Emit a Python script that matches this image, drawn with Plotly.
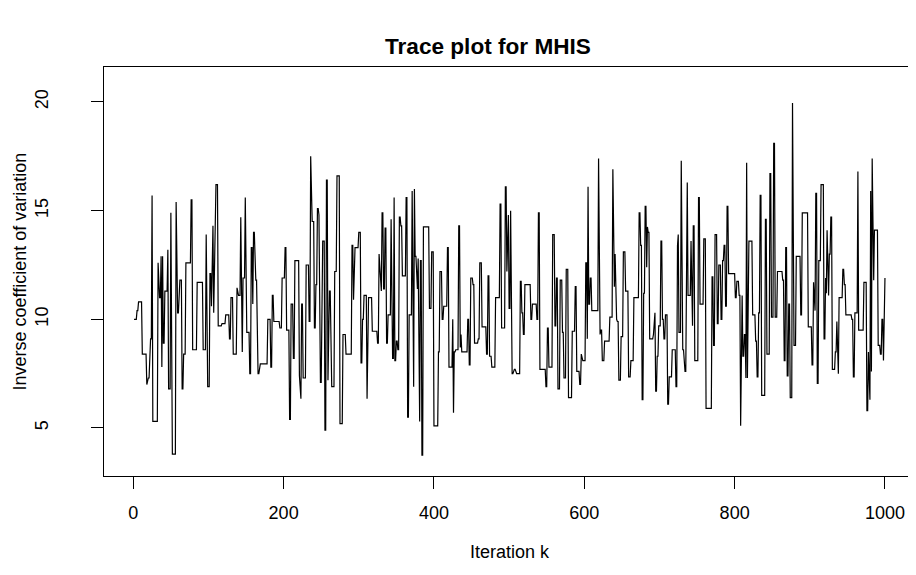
import numpy as np
import plotly.graph_objects as go

# MCMC trace (MHIS): iteration where the chain moves to a new value, and that value
change_iter = [
    1, 5, 7, 12, 18, 19, 22, 25, 26, 33, 34, 37, 38, 39, 40, 42, 46, 47, 50, 51, 57, 58, 61, 65, 67, 70, 77, 79, 85, 93, 97, 98, 102,
    104, 105, 107, 108, 110, 113, 118, 123, 128, 130, 133, 138, 139, 143, 144, 146, 149, 150, 155, 157, 159, 160, 162, 165, 168, 179, 183, 185, 187, 195, 198,
    202, 204, 208, 210, 213, 215, 221, 222, 224, 226, 230, 234, 236, 237, 241, 243, 245, 247, 248, 251, 255, 257, 259, 260, 263, 268, 271, 275, 279, 283, 291, 293, 294,
    300, 303, 305, 307, 311, 312, 318, 325, 327, 328, 330, 331, 333, 335, 337, 339, 343, 344, 345, 347, 348, 350, 352, 354, 356, 358, 363, 365, 367, 371, 372, 374, 375, 377, 379, 380, 382, 384, 386, 394, 397,
    400, 406, 408, 411, 413, 418, 420, 425, 426, 427, 429, 433, 435, 436, 437, 445, 447, 449, 452, 454, 459, 461, 464, 470, 472, 474, 477, 482, 488, 490, 495, 497, 498,
    500, 502, 503, 506, 509, 515, 517, 519, 521, 529, 531, 537, 539, 541, 549, 551, 553, 558, 561, 563, 565, 568, 571, 573, 576, 579, 584, 588, 590, 594, 596, 597,
    602, 604, 605, 606, 608, 610, 619, 620, 622, 624, 627, 634, 638, 639, 641, 642, 644, 646, 649, 652, 655, 659, 662, 666, 673, 675, 677, 679, 681, 683, 684, 685, 687, 692, 693, 695, 697,
    699, 702, 704, 706, 708, 711, 713, 717, 722, 724, 725, 726, 729, 730, 733, 736, 738, 742, 743, 745, 747, 752, 754, 759, 762, 770, 772, 774, 777, 779, 782, 784, 786, 788, 790, 792,
    801, 803, 806, 808, 809, 811, 813, 815, 816, 817, 818, 824, 828, 830, 832, 834, 836, 841, 843, 847, 849, 852, 854, 857, 864, 866, 868, 870, 872, 874, 877, 878, 882, 888, 890,
    898, 903, 905, 906, 908, 910, 912, 915, 919, 921, 922, 923, 924, 926, 928, 930, 934, 936, 937, 939, 944, 946, 948, 956, 958, 960, 964, 965, 972, 976, 978, 979, 981, 982, 983, 984, 986, 991, 994, 996, 998, 999,
]
chain_value = [
    10.0, 10.4, 10.8, 8.4, 7.0, 7.3, 9.1, 15.7, 5.3, 12.6, 11.0, 12.9, 7.8, 12.9, 8.9, 11.3, 13.2, 6.8, 14.9, 3.8, 15.4, 10.3, 11.8, 6.8, 8.4, 12.6, 15.5, 8.6, 11.7, 8.6, 13.9, 6.9, 12.1,
    10.6, 14.3, 10.3, 12.5, 16.2, 9.7, 9.8, 10.2, 9.1, 11.0, 8.4, 11.45, 11.1, 14.7, 8.5, 11.9, 15.6, 9.4, 7.5, 13.3, 10.7, 14.0, 11.8, 7.5, 7.95, 10.0, 7.8, 11.1, 9.9, 9.6, 11.9,
    13.3, 9.5, 5.4, 10.7, 8.2, 12.7, 7.4, 6.35, 10.7, 7.3, 12.5, 9.9, 17.5, 14.5, 9.6, 11.6, 15.1, 14.8, 7.1, 13.6, 4.9, 16.4, 7.2, 11.3, 6.9, 12.2, 16.6, 5.2, 9.3, 8.4, 13.4, 10.9, 13.3,
    14.0, 8.0, 10.0, 11.1, 6.35, 11.0, 9.45, 8.9, 13.0, 12.3, 11.3, 14.9, 11.4, 14.2, 8.9, 10.2, 14.6, 8.6, 8.2, 15.6, 8.1, 9.0, 8.6, 14.7, 14.3, 12.0, 15.6, 5.5, 10.2, 15.9, 6.9, 16.0, 12.9, 11.4, 12.8, 5.3, 12.7, 3.75, 14.25, 10.5, 13.1,
    5.1, 8.5, 12.2, 10.0, 10.6, 13.3, 7.8, 10.0, 5.7, 8.5, 8.6, 14.3, 8.7, 9.3, 8.5, 10.0, 7.9, 11.9, 11.6, 8.9, 9.1, 12.6, 9.65, 8.4, 12.0, 8.3, 7.8, 11.0, 15.3, 9.6, 16.1, 12.2, 14.8,
    10.5, 15.0, 7.5, 7.7, 7.5, 11.75, 10.3, 9.3, 11.6, 10.0, 10.7, 10.0, 14.9, 7.7, 6.9, 9.6, 7.8, 13.9, 9.7, 11.9, 6.8, 11.8, 9.4, 7.3, 12.3, 6.4, 9.45, 11.5, 7.6, 7.0, 8.4, 8.1,
    12.6, 9.1, 16.1, 10.7, 11.9, 10.4, 17.4, 9.3, 9.5, 8.1, 9.0, 10.1, 16.9, 11.5, 13.0, 10.0, 9.9, 7.2, 9.2, 13.1, 11.3, 7.35, 8.1, 11.0, 14.9, 13.4, 6.3, 11.2, 15.2, 12.4, 14.25, 14.0, 9.1, 9.3, 10.3, 6.7, 8.3,
    9.7, 13.6, 10.0, 9.1, 10.2, 6.1, 7.35, 8.6, 6.9, 13.4, 13.9, 9.4, 17.3, 8.6, 7.6, 16.3, 11.1, 13.6, 9.7, 14.3, 8.1, 15.6, 10.7, 13.7, 5.9, 11.95, 8.8, 13.9, 9.8, 12.5, 10.0, 12.7, 13.4, 10.6, 15.2, 12.1,
    11.0, 11.75, 11.1, 5.1, 11.1, 8.3, 9.3, 7.3, 17.2, 7.3, 13.6, 10.2, 9.0, 7.35, 10.3, 15.7, 6.5, 14.6, 8.4, 16.7, 10.1, 18.1, 10.1, 12.2, 11.8, 8.1, 13.3, 7.4, 10.7, 6.4, 19.95, 8.8, 12.9, 10.2, 14.9,
    9.65, 7.9, 11.7, 10.4, 15.8, 7.05, 12.7, 16.2, 9.1, 11.9, 11.2, 14.1, 11.1, 13.0, 14.7, 7.7, 8.5, 9.9, 7.5, 11.0, 12.3, 11.6, 10.2, 10.0, 7.35, 10.3, 16.8, 9.5, 11.7, 5.8, 8.5, 6.3, 15.9, 7.6, 17.4, 11.8, 14.1, 8.8, 8.4, 10.0, 8.1, 11.9,
]
n_iter = 1000
x_ticks = [0, 200, 400, 600, 800, 1000]
y_ticks = [5, 10, 15, 20]

runs = np.diff(np.array(change_iter + [n_iter + 1]))
trace_y = np.repeat(np.array(chain_value), runs)
iters = np.arange(1, n_iter + 1)

FONT = "Liberation Sans, Arial, Helvetica, sans-serif"

fig = go.Figure(go.Scatter(x=iters, y=trace_y, mode="lines",
                           line=dict(color="black", width=1.2), hoverinfo="skip"))

axis_common = dict(showline=True, linecolor="black", linewidth=1, mirror=True,
                   ticks="outside", ticklen=12, tickcolor="black", tickwidth=1,
                   showgrid=False, zeroline=False,
                   tickfont=dict(family=FONT, size=18, color="black"))

# page body has an 8px margin, so the figure is 908x567 placed at (8, 8)
fig.update_layout(
    width=908, height=567,
    margin=dict(l=96, r=1, t=59, b=99),
    paper_bgcolor="white", plot_bgcolor="white",
    showlegend=False,
    xaxis=dict(range=[-38.96, 1039.96], tickvals=x_ticks, ticklabelstandoff=8, **axis_common),
    yaxis=dict(range=[2.79, 21.61], tickvals=y_ticks, tickangle=-90, ticklabelstandoff=36, **axis_common),
    annotations=[
        dict(text="<b>Trace plot for MHIS</b>", xref="paper", yref="paper", x=0.4735, y=1.0489,
             xanchor="center", yanchor="middle", showarrow=False,
             font=dict(family=FONT, size=22.6, color="black")),
        dict(text="Iteration k", xref="paper", yref="paper", x=0.5, y=-0.1858,
             xanchor="center", yanchor="middle", showarrow=False,
             font=dict(family=FONT, size=18, color="black")),
        dict(text="Inverse coefficient of variation", xref="paper", yref="paper", x=-0.1036, y=0.5,
             xanchor="center", yanchor="middle", showarrow=False, textangle=-90,
             font=dict(family=FONT, size=18, color="black")),
    ],
)

fig.write_html("out.html")
